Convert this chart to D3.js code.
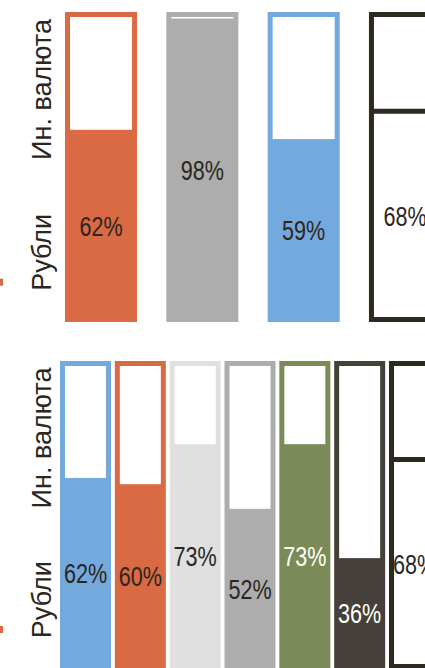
<html>
    <head>
        <meta charset="utf-8">
    </head>

    <body>

        <script src='https://d3js.org/d3.v7.min.js' charset='utf-8'></script>
        <script type="text/javascript">

        // data
        var axisLabels = ["Рубли", "Ин. валюта"];

        var topBars = ["t1", "t2", "t3", "t4"];
        var topShares = [62, 98, 59, 68];
        var topColors = ["#d96a43", "#adadad", "#74a9de", "#2e2a20"];
        var topOutline = [false, false, false, true];

        var bottomBars = ["b1", "b2", "b3", "b4", "b5", "b6", "b7"];
        var bottomShares = [62, 60, 73, 52, 73, 36, 68];
        var bottomColors = ["#74a9de", "#d96a43", "#e0e0e0", "#adadad", "#7a8b58", "#46403b", "#2e2a20"];
        var bottomOutline = [false, false, false, false, false, false, true];
        var bottomWhiteText = [false, false, false, false, true, true, false];

        var width = 425, height = 668;
        var inset = 5;

        var svg = d3.select("body")
            .style("margin", "0")
            .append("svg")
            .attr("width", width)
            .attr("height", height)
            .style("background", "#fff");

        function panel(names, shares, colors, outline, whiteText, xRange, pad, yRange) {
            var x = d3.scaleBand().domain(names).range(xRange).paddingInner(pad).paddingOuter(0);
            var y = d3.scaleLinear().domain([0, 100]).range(yRange);
            var g = svg.append("g");
            var bw = x.bandwidth();

            names.forEach(function(n, i) {
                var x0 = x(n);
                var v = shares[i];
                if (outline[i]) {
                    g.append("rect")
                        .attr("x", x0 + inset / 2).attr("y", y(100) + inset / 2)
                        .attr("width", bw - inset).attr("height", y(0) - y(100) - inset)
                        .attr("fill", "#fff").attr("stroke", colors[i]).attr("stroke-width", inset);
                    g.append("line")
                        .attr("x1", x0).attr("x2", x0 + bw)
                        .attr("y1", y(v)).attr("y2", y(v))
                        .attr("stroke", colors[i]).attr("stroke-width", inset);
                } else {
                    g.append("rect")
                        .attr("x", x0).attr("y", y(100))
                        .attr("width", bw).attr("height", y(0) - y(100))
                        .attr("fill", colors[i]);
                    g.append("rect")
                        .attr("x", x0 + inset).attr("y", y(100) + inset)
                        .attr("width", bw - 2 * inset)
                        .attr("height", Math.max(1.5, y(v) - y(100) - inset))
                        .attr("fill", "#fff");
                }
                // condensed look: squeeze the text horizontally
                g.append("text")
                    .attr("transform", "translate(" + (x0 + bw / 2) + "," + ((y(v) + y(0)) / 2) + ") scale(0.8,1)")
                    .attr("dy", "0.36em")
                    .attr("text-anchor", "middle")
                    .style("font-family", "'Liberation Sans', Arial, sans-serif")
                    .style("font-size", "27px")
                    .attr("fill", whiteText && whiteText[i] ? "#fff" : "#2b2620")
                    .text(v + "%");
            });

            // rotated axis labels
            [[axisLabels[0], 22.5], [axisLabels[1], 75]].forEach(function(d) {
                g.append("text")
                    .attr("transform", "translate(51," + y(d[1]) + ") rotate(-90)")
                    .attr("text-anchor", "middle")
                    .style("font-family", "'Liberation Sans', sans-serif")
                    .style("font-size", "27px")
                    .attr("fill", "#2b2620")
                    .text(d[0]);
            });

            // little orange mark at the left edge
            g.append("rect")
                .attr("x", 0).attr("y", y(13) - 3)
                .attr("width", 3).attr("height", 7)
                .attr("fill", "#d96a43");
        }

        panel(topBars, topShares, topColors, topOutline, null, [65, 441], 0.289, [322, 12]);
        panel(bottomBars, bottomShares, bottomColors, bottomOutline, bottomWhiteText, [60, 440], 0.07, [669, 361]);

        </script>

    </body>
</html>
